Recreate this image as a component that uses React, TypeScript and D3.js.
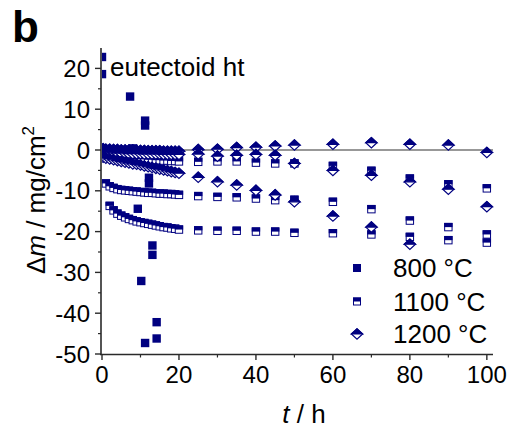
import React from "react";
import * as d3 from "d3";

// ---------- data ----------
const T800 = [0, 0, 7.3, 8.1, 11.2, 11.2, 12.2, 12.2, 9.3, 13.1, 13.1, 10.2, 14.2, 14.2, 11.2];
const V800 = [22.8, 18.6, 13.1, 0.4, 7.2, 6.0, -6.8, -8.2, -14.4, -23.4, -25.7, -32.1, -42.2, -46.2, -47.3];

const T_DENSE0 = [0.3, 1, 2, 3, 4, 5, 6, 7, 8, 9, 10, 11, 12, 13, 14, 15, 16, 17, 18, 19, 20];
const T_DENSE1 = [1, 2, 3, 4, 5, 6, 7, 8, 9, 10, 11, 12, 13, 14, 15, 16, 17, 18, 19, 20];
const T_DENSE2 = [2, 3, 4, 5, 6, 7, 8, 9, 10, 11, 12, 13, 14, 15, 16, 17, 18, 19, 20];
const T_LATE = [25, 30, 35, 40, 45, 50, 60, 70, 80, 90, 100];
const T_LATE_F = [25, 30, 35, 40, 45, 50, 60, 70, 80];

// 1100 °C samples
const V1100_A = [-1.5, -1.6, -1.7, -1.8, -1.9, -2.0, -2.0, -2.1, -2.2, -2.2, -2.3, -2.3, -2.4, -2.4, -2.5, -2.5, -2.6, -2.6, -2.7, -2.7, -2.8,
  -2.9, -2.8, -2.8, -3.1, -3.3, -3.3, -3.9, -5.1, -7.0, -8.4, -9.4];
const V1100_B = [-8.2, -8.9, -9.3, -9.6, -9.8, -9.9, -10.0, -10.1, -10.2, -10.3, -10.4, -10.5, -10.5, -10.6, -10.7, -10.7, -10.8, -10.8, -10.9, -11.0,
  -11.3, -11.5, -11.6, -11.9, -12.3, -12.2, -12.7, -14.5, -17.3, -18.9, -20.7];
const V1100_C = [-13.7, -14.8, -15.6, -16.1, -16.5, -16.9, -17.2, -17.5, -17.7, -17.9, -18.1, -18.3, -18.5, -18.7, -18.9, -19.0, -19.2, -19.3, -19.5,
  -19.7, -19.8, -19.8, -20.0, -20.0, -20.3, -20.4, -20.7, -21.3, -22.1, -22.7];

// 1200 °C samples
const V1200_D = [0.3, 0.2, 0.2, 0.1, 0.1, 0.0, 0.0, 0.0, 0.0, -0.1, -0.1, -0.1, -0.2, -0.2, -0.2, -0.2, -0.3, -0.3, -0.3, -0.3, -0.3,
  0.1, 0.2, 0.6, 0.7, 1.0, 1.2, 1.4, 1.8, 1.4, 1.2, -0.6];
const V1200_E = [-0.6, -0.6, -0.7, -0.7, -0.8, -0.8, -0.8, -0.9, -0.9, -0.9, -0.9, -1.0, -1.0, -1.0, -1.0, -1.0, -1.1, -1.1, -1.1, -1.1, -1.1,
  -1.0, -1.5, -1.3, -1.1, -1.3, -3.3, -5.0, -6.2, -7.8, -9.6, -13.9];
const V1200_F = [-1.8, -2.0, -2.2, -2.4, -2.6, -2.8, -3.0, -3.2, -3.4, -3.5, -3.7, -3.9, -4.1, -4.3, -4.5, -4.7, -4.9, -5.1, -5.3, -5.5, -5.7,
  -6.7, -7.8, -8.6, -9.9, -11.0, -12.7, -16.2, -18.9, -23.1];

const X_MAJOR = [0, 20, 40, 60, 80, 100];
const X_MINOR = [10, 30, 50, 70, 90];
const Y_MAJOR = [-50, -40, -30, -20, -10, 0, 10, 20];
const Y_MINOR = [-45, -35, -25, -15, -5, 5, 15];
const LEGEND = ["800 °C", "1100 °C", "1200 °C"];

// ---------- layout ----------
const W = 514, H = 430;
const NAVY = "#000080";
const FONT = "'Liberation Sans', Arial, Helvetica, sans-serif";

const x = d3.scaleLinear().domain([0, 101.6]).range([102, 493]);
const y = d3.scaleLinear().domain([-50, 25]).range([354, 48]);

type P = { t: number; v: number };
const zip = (ts: number[], vs: number[]): P[] => vs.map((v, i) => ({ t: ts[i], v }));

const s800 = zip(T800, V800);
const s1100 = [
  ...zip([...T_DENSE0, ...T_LATE], V1100_A),
  ...zip([...T_DENSE1, ...T_LATE], V1100_B),
  ...zip([...T_DENSE2, ...T_LATE], V1100_C),
];
const s1200 = [
  ...zip([...T_DENSE0, ...T_LATE], V1200_D),
  ...zip([...T_DENSE0, ...T_LATE], V1200_E),
  ...zip([...T_DENSE0, ...T_LATE_F], V1200_F),
];

const SQ = 8.4;
const DW = 5.6, DH = 5.2;

function FilledSquare({ cx, cy, s = SQ }: { cx: number; cy: number; s?: number }) {
  return <rect x={cx - s / 2} y={cy - s / 2} width={s} height={s} fill={NAVY} />;
}
function HalfSquare({ cx, cy, s = SQ }: { cx: number; cy: number; s?: number }) {
  return (
    <g>
      <rect x={cx - s / 2 + 0.5} y={cy - s / 2 + 0.5} width={s - 1} height={s - 1} fill="#fff" stroke={NAVY} strokeWidth={1} />
      <rect x={cx - s / 2} y={cy - s / 2} width={s} height={s / 2} fill={NAVY} />
    </g>
  );
}
function HalfDiamond({ cx, cy, w = DW, h = DH }: { cx: number; cy: number; w?: number; h?: number }) {
  const full = `M${cx - w},${cy}L${cx},${cy - h}L${cx + w},${cy}L${cx},${cy + h}Z`;
  const top = `M${cx - w},${cy}L${cx},${cy - h}L${cx + w},${cy}Z`;
  return (
    <g>
      <path d={full} fill="#fff" stroke={NAVY} strokeWidth={1.2} />
      <path d={top} fill={NAVY} stroke={NAVY} strokeWidth={1.2} />
    </g>
  );
}

export default function App() {
  const axisColor = "#2a2a2a";
  const legendX = 357, legendTextX = 393;
  const legendY = [268, 301.5, 334];
  return (
    <svg width={W} height={H} style={{ position: "absolute", left: 0, top: 0, background: "#fff" }} fontFamily={FONT}>
      <defs>
        <clipPath id="plotclip">
          <rect x={102} y={40} width={400} height={320} />
        </clipPath>
      </defs>
      <rect x={0} y={0} width={W} height={H} fill="#fff" />

      {/* zero line */}
      <line x1={x(0)} x2={493} y1={y(0)} y2={y(0)} stroke="#333" strokeWidth={1.2} />

      <g clipPath="url(#plotclip)">
        {s1100.map((p, i) => <HalfSquare key={"b" + i} cx={x(p.t)} cy={y(p.v)} />)}
        {s1200.map((p, i) => <HalfDiamond key={"c" + i} cx={x(p.t)} cy={y(p.v)} />)}
        {s800.map((p, i) => <FilledSquare key={"a" + i} cx={x(p.t)} cy={y(p.v)} />)}
      </g>

      {/* axes */}
      <line x1={101} x2={101} y1={48} y2={355} stroke={axisColor} strokeWidth={1.6} />
      <line x1={100} x2={493} y1={354.5} y2={354.5} stroke={axisColor} strokeWidth={1.6} />
      {Y_MAJOR.map((v) => (
        <g key={"ym" + v}>
          <line x1={95} x2={101} y1={y(v)} y2={y(v)} stroke={axisColor} strokeWidth={1.4} />
          <text x={90} y={y(v) + 8.5} fontSize={24} textAnchor="end" fill="#000">{v}</text>
        </g>
      ))}
      {Y_MINOR.map((v) => (
        <line key={"yn" + v} x1={98} x2={101} y1={y(v)} y2={y(v)} stroke={axisColor} strokeWidth={1.2} />
      ))}
      {X_MAJOR.map((v) => (
        <g key={"xm" + v}>
          <line x1={x(v)} x2={x(v)} y1={354} y2={360} stroke={axisColor} strokeWidth={1.4} />
          <text x={x(v)} y={383} fontSize={24} textAnchor="middle" fill="#000">{v}</text>
        </g>
      ))}
      {X_MINOR.map((v) => (
        <line key={"xn" + v} x1={x(v)} x2={x(v)} y1={354} y2={357.5} stroke={axisColor} strokeWidth={1.2} />
      ))}

      {/* axis titles */}
      <text x={304} y={423} fontSize={26} textAnchor="middle" fill="#000">
        <tspan fontStyle="italic">t</tspan>
        <tspan> / h</tspan>
      </text>
      <text transform="translate(45,200) rotate(-90)" fontSize={26} textAnchor="middle" fill="#000">
        <tspan>Δ</tspan>
        <tspan fontStyle="italic">m</tspan>
        <tspan> / mg/cm</tspan>
        <tspan fontSize={17} dy={-11}>2</tspan>
      </text>

      {/* annotations */}
      <text x={12} y={42} fontSize={44} fontWeight="bold" fill="#000">b</text>
      <text x={110} y={76} fontSize={26} fill="#000">eutectoid ht</text>

      {/* legend */}
      <FilledSquare cx={legendX} cy={legendY[0]} s={8} />
      <HalfSquare cx={legendX} cy={legendY[1]} s={8} />
      <HalfDiamond cx={legendX} cy={legendY[2]} />
      {LEGEND.map((l, i) => (
        <text key={l} x={legendTextX} y={legendY[i] + 9} fontSize={26} fill="#000">{l}</text>
      ))}
    </svg>
  );
}
